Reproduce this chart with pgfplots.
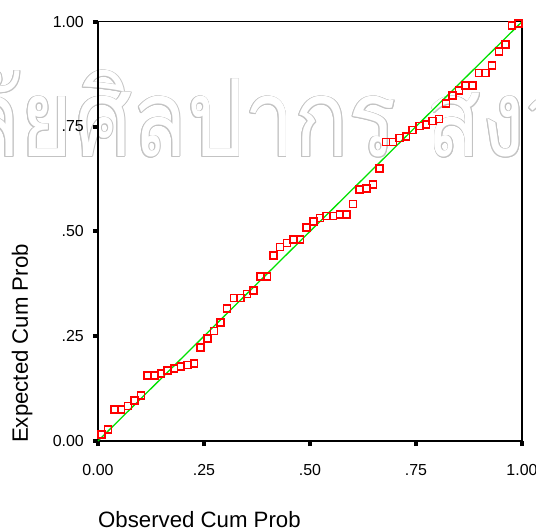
\documentclass[border=0pt]{standalone}
\usepackage{fontspec}
\setmainfont{Liberation Sans}
\newfontfamily\thaifont[Script=Thai]{Loma}
\usepackage{pgfplots}
\usepackage{pgfplotstable}
\pgfplotsset{compat=1.18}

\definecolor{ppred}{RGB}{255,0,0}
\definecolor{ppgreen}{RGB}{0,225,0}
\definecolor{wmgray}{RGB}{195,195,195}

% Normal P-P plot: observed vs. expected cumulative probability
\pgfplotstableread{
x      y
0.0078 0.0155
0.0234 0.0281
0.0391 0.0751
0.0547 0.0751
0.0703 0.0835
0.0859 0.0961
0.1016 0.1090
0.1172 0.1557
0.1328 0.1557
0.1484 0.1603
0.1641 0.1677
0.1797 0.1729
0.1953 0.1777
0.2109 0.1808
0.2266 0.1853
0.2422 0.2235
0.2578 0.2449
0.2734 0.2619
0.2891 0.2826
0.3047 0.3160
0.3203 0.3415
0.3359 0.3415
0.3516 0.3506
0.3672 0.3585
0.3828 0.3918
0.3984 0.3918
0.4141 0.4429
0.4297 0.4627
0.4453 0.4722
0.4609 0.4800
0.4766 0.4800
0.4922 0.5097
0.5078 0.5240
0.5234 0.5318
0.5391 0.5362
0.5547 0.5362
0.5703 0.5402
0.5859 0.5402
0.6016 0.5657
0.6172 0.5993
0.6328 0.6029
0.6484 0.6122
0.6641 0.6494
0.6797 0.7131
0.6953 0.7131
0.7109 0.7222
0.7266 0.7257
0.7422 0.7417
0.7578 0.7517
0.7734 0.7543
0.7891 0.7632
0.8047 0.7675
0.8203 0.8054
0.8359 0.8233
0.8516 0.8366
0.8672 0.8478
0.8828 0.8478
0.8984 0.8777
0.9141 0.8777
0.9297 0.8955
0.9453 0.9294
0.9609 0.9456
0.9766 0.9914
0.9922 0.9962
}\pptable

\pgfplotstableread{
x y
0 0
1 1
}\refline

\def\wmA{มหาวิทยาลัย}
\def\wmB{ศิลปากร สงวนลิขสิทธิ์}
\newcommand\wmfont{\thaifont\fontsize{90}{90}\selectfont}
\tikzset{wm/.style={inner sep=0pt, font=\wmfont, yscale=1.2, transform shape}}

\begin{document}
\begin{tikzpicture}
% outlined watermark text
\foreach \a in {0,30,...,330} {
  \node[wm, anchor=base east, text=wmgray]
    at ([shift={(\a:0.9bp)}]-25bp,284bp) {\wmA};
  \node[wm, anchor=base west, text=wmgray]
    at ([shift={(\a:0.9bp)}]-23bp,284bp) {\wmB};
}
\node[wm, anchor=base east, text=white] at (-25bp,284bp) {\wmA};
\node[wm, anchor=base west, text=white] at (-23bp,284bp) {\wmB};

\begin{axis}[
  scale only axis,
  width=424bp, height=419.3bp,
  xmin=0, xmax=1, ymin=0, ymax=1,
  axis line style={black, line width=1.6bp},
  tick pos=left, tick align=outside,
  major tick length=5bp,
  tick style={black, line width=4bp},
  xtick={0,0.25,0.5,0.75,1},
  ytick={0,0.25,0.5,0.75,1},
  xticklabels={0.00,.25,.50,.75,1.00},
  yticklabels={0.00,.25,.50,.75,1.00},
  tick label style={font=\fontsize{16}{16}\selectfont, inner sep=0pt},
  xticklabel style={anchor=base, yshift=-29bp},
  yticklabel style={anchor=east, xshift=-9bp},
  xlabel={Observed Cum Prob},
  ylabel={Expected Cum Prob},
  label style={font=\fontsize{22.3}{22.3}\selectfont, inner sep=0pt},
  xlabel style={at={(axis description cs:0,-0.188)}, anchor=west},
  ylabel style={at={(axis description cs:-0.179,-0.005)}, anchor=west},
  clip=false,
]
\addplot[ppgreen, line width=1.3bp] table[x=x, y=y] {\refline};
\addplot[only marks, mark=square, mark size=3.5bp,
  mark options={ppred, line width=1.6bp}] table[x=x, y=y] {\pptable};
\end{axis}
\pgfresetboundingbox
\path[use as bounding box] (-98bp,-89bp) rectangle (438bp,441bp);
\end{tikzpicture}
\end{document}
